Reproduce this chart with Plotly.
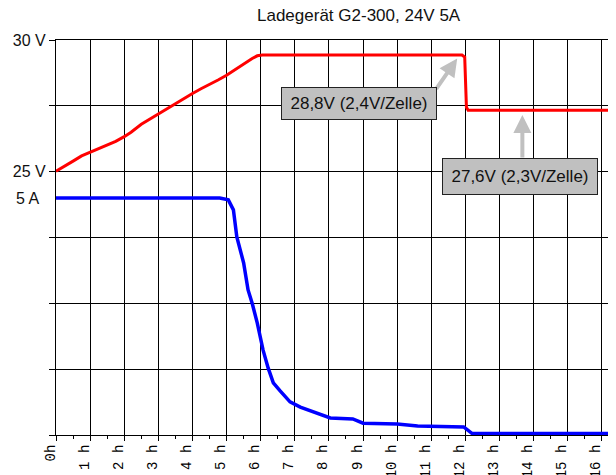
import plotly.graph_objects as go

# ---- data ----
title_text = "Ladegerät G2-300, 24V 5A"

volt_time_h = [0, 0.25, 0.5, 0.75, 1.0, 1.25, 1.5, 1.75, 2.0, 2.2, 2.5, 2.75, 3.0, 3.25,
               3.5, 3.75, 4.0, 4.25, 4.5, 4.75, 5.0, 5.25, 5.5, 5.75, 5.9, 6.05,
               11.9, 11.98, 12.03, 12.08, 16.18]
voltage_v = [25.02, 25.2, 25.4, 25.6, 25.74, 25.87, 26.0, 26.15, 26.33, 26.5, 26.8, 27.0,
             27.17, 27.37, 27.57, 27.77, 27.97, 28.15, 28.3, 28.48, 28.66, 28.88, 29.1,
             29.3, 29.4, 29.43,
             29.43, 29.35, 27.45, 27.33, 27.33]

amp_time_h = [0, 4.8, 5.05, 5.2, 5.3, 5.5, 5.63, 5.75, 5.9, 6.07, 6.22, 6.37, 6.57,
              6.86, 7.16, 7.54, 7.9, 8.04, 8.7, 9.0, 10.0, 10.6, 11.95, 12.15, 12.2, 16.18]
current_a = [5.0, 5.0, 4.96, 4.75, 4.18, 3.63, 3.06, 2.78, 2.36, 1.79, 1.41, 1.10, 0.93,
             0.70, 0.59, 0.49, 0.40, 0.36, 0.34, 0.25, 0.23, 0.19, 0.17, 0.06, 0.03, 0.03]

x_tick_vals = list(range(0, 17))
x_tick_text = ["0h"] + [f"{h} h" for h in range(1, 17)]

v_tick_vals = [15, 17.5, 20, 22.5, 25, 27.5, 30]
v_tick_text = ["", "", "", "", "25 V", "", "30 V"]

note_high = "28,8V (2,4V/Zelle)"
note_float = "27,6V (2,3V/Zelle)"

fig = go.Figure()
fig.add_trace(go.Scatter(x=volt_time_h, y=voltage_v, mode="lines",
                         line=dict(color="#ff0000", width=3), yaxis="y",
                         showlegend=False, hoverinfo="skip"))
fig.add_trace(go.Scatter(x=amp_time_h, y=current_a, mode="lines",
                         line=dict(color="#0000ff", width=3.5), yaxis="y2",
                         showlegend=False, hoverinfo="skip"))

sans = "Liberation Sans, Arial, sans-serif"
axis_font = dict(family=sans, size=16, color="#111")

# the page body adds an 8px offset, so the figure is drawn 8px smaller
fig.update_layout(
    width=608, height=467,
    margin=dict(l=48, r=8, t=32, b=40),
    paper_bgcolor="white", plot_bgcolor="white",
    xaxis=dict(range=[0, 16.18], tickvals=x_tick_vals, ticktext=x_tick_text,
               tickangle=-90, ticks="outside", ticklen=5, tickcolor="#000",
               ticklabelshift=-6, ticklabelstandoff=-2,
               minor=dict(dtick=0.5, tick0=0, ticks="outside", ticklen=3,
                          tickcolor="#000", showgrid=False),
               showgrid=True, gridcolor="#000", gridwidth=1.2,
               showline=True, linecolor="#000", linewidth=1.2, mirror=True,
               zeroline=False, automargin=False,
               tickfont=dict(family="Liberation Mono, Courier New, monospace",
                             size=14, color="#000")),
    yaxis=dict(range=[15, 30], tickvals=v_tick_vals, ticktext=v_tick_text,
               ticks="outside", ticklen=6, tickcolor="#000",
               showgrid=True, gridcolor="#000", gridwidth=1.2,
               showline=True, linecolor="#000", linewidth=1.2, mirror=True,
               zeroline=False, automargin=False, tickfont=axis_font),
    yaxis2=dict(range=[0, 25 / 3], overlaying="y", side="left",
                showgrid=False, showticklabels=False, ticks="",
                zeroline=False, showline=False, automargin=False),
)

# title
fig.add_annotation(text=title_text, xref="paper", yref="paper",
                   x=(359 - 56) / 552, y=1 + 24 / 395, xanchor="center", yanchor="middle",
                   showarrow=False, font=dict(family=sans, size=17, color="#111"))
# current label
fig.add_annotation(text="5 A", xref="paper", yref="y2", x=-15 / 552, y=5,
                   xanchor="right", yanchor="middle", showarrow=False, font=axis_font)

# arrows
arrow_style = dict(showarrow=True, arrowhead=2, arrowsize=0.9, arrowwidth=4,
                   arrowcolor="#c0c0c0", text="", xref="x", yref="y")
fig.add_annotation(x=11.76, y=29.3, ax=-22, ay=32, **arrow_style)
fig.add_annotation(x=13.67, y=27.15, ax=0, ay=44, **arrow_style)

# label boxes
box_style = dict(showarrow=False, xref="x", yref="y", bgcolor="#c0c0c0",
                 bordercolor="#222", borderwidth=1, borderpad=2,
                 font=dict(family=sans, size=17, color="#111"))
fig.add_annotation(text=note_high, x=8.89, y=27.6, width=150, height=27, **box_style)
fig.add_annotation(text=note_float, x=13.6, y=24.83, width=150, height=31, **box_style)

fig.write_html("out.html")
